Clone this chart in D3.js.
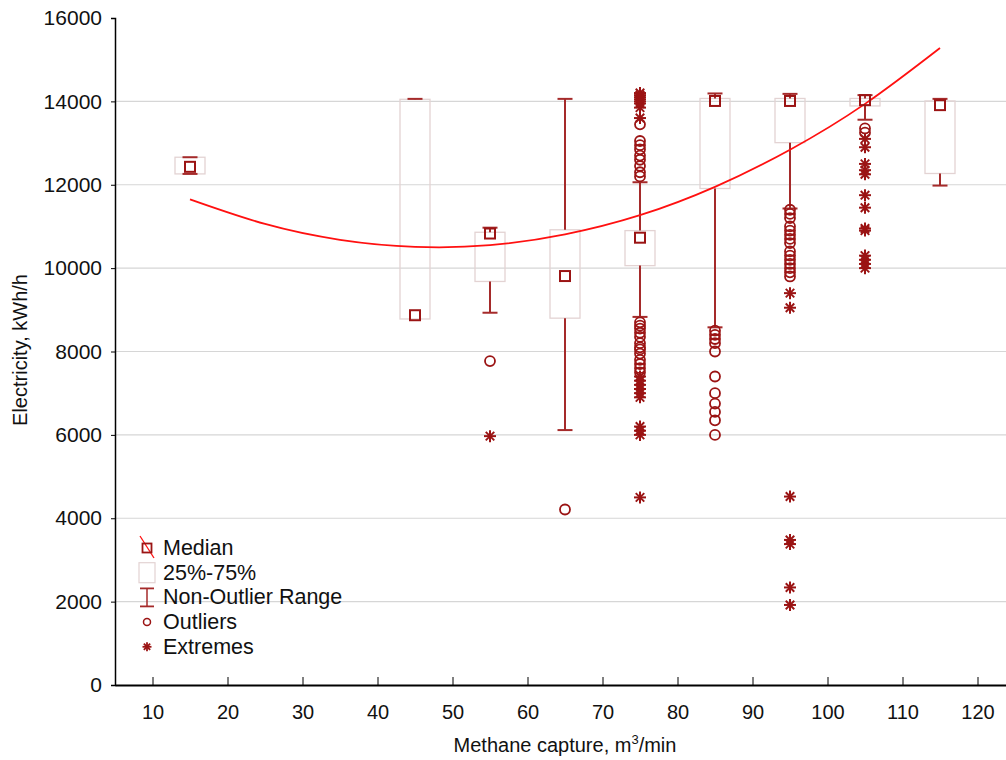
<!DOCTYPE html>
<meta charset="utf-8">
<script src="https://d3js.org/d3.v7.min.js"></script>
<style>
  body { margin: 0; background: #fff; }
  text { font-family: "Liberation Sans", Arial, sans-serif; }
</style>
<div id="chart"></div>
<script>

// methane capture classes (box centres)
var categories = [15, 45, 55, 65, 75, 85, 95, 105, 115];
var medians    = [12430, 8870, 10830, 9810, 10730, 14010, 14010, 14030, 13910];
var q1         = [12260, 8780, 9680, 8800, 10060, 11910, 13010, 13890, 12270];
var q3         = [12660, 14050, 10860, 10920, 10900, 14070, 14070, 14070, 14010];
var whiskerLow = [12260, 8780, 8930, 6115, 8830, 8580, 11430, 13560, 11980];
var whiskerHigh= [12660, 14060, 10970, 14060, 12060, 14190, 14180, 14150, 14060];

var outliers = [
  [], [], [7770], [4210],
  [13450, 13050, 12950, 12850, 12700, 12600, 12450, 12300, 12200,
   8700, 8620, 8550, 8450, 8350, 8200, 8100, 8050, 7950, 7800, 7700, 7600, 7500],
  [8500, 8400, 8300, 8200, 8000, 7400, 7000, 6750, 6550, 6350, 6000],
  [11400, 11300, 11200, 11000, 10900, 10800, 10700, 10600, 10400, 10300, 10200, 10100, 10000, 9900, 9800],
  [13350, 13250],
  []
];
var extremes = [
  [], [], [5970], [],
  [14200, 14150, 14100, 14050, 14000, 13950, 13850, 13600,
   7400, 7300, 7200, 7100, 7000, 6900, 6200, 6100, 6000, 4500],
  [],
  [9400, 9050, 4520, 3480, 3380, 2340, 1920],
  [13100, 12900, 12500, 12350, 12250, 11750, 11450, 10950, 10900, 10300, 10200, 10100, 10000],
  []
];

// fitted curve
var fitX = [15, 25, 35, 45, 55, 65, 75, 85, 95, 105, 115];
var fitY = [11650, 11060, 10680, 10510, 10550, 10810, 11270, 11950, 12840, 13940, 15280];

var xTicks = [10, 20, 30, 40, 50, 60, 70, 80, 90, 100, 110, 120];
var yTicks = [0, 2000, 4000, 6000, 8000, 10000, 12000, 14000, 16000];

var legendItems = ["Median", "25%-75%", "Non-Outlier Range", "Outliers", "Extremes"];

var W = 1006, H = 760;
var dark = "#9b1414", whisk = "#a52a2a", boxStroke = "#e3d3d3";

var svg = d3.select("#chart").append("svg")
  .attr("width", W).attr("height", H);

var x = d3.scaleLinear().domain([5, 125]).range([115, 1015]);
var y = d3.scaleLinear().domain([0, 16000]).range([685, 18]);

// gridlines
svg.append("g").selectAll("line")
  .data(yTicks.filter(function(d) { return d > 0 && d < 16000; }))
  .join("line")
    .attr("x1", 115).attr("x2", W)
    .attr("y1", function(d) { return y(d); })
    .attr("y2", function(d) { return y(d); })
    .attr("stroke", "#d6d6d6").attr("stroke-width", 1.2);

// Y axis
var yAxis = svg.append("g")
  .attr("transform", "translate(115,0)")
  .call(d3.axisLeft(y).tickValues(yTicks).tickFormat(d3.format("d")).tickSize(4).tickPadding(9));
yAxis.select(".domain").attr("stroke", "#000").attr("stroke-width", 1.5);
yAxis.selectAll("text").attr("font-size", 21).attr("fill", "#111")
  .style("font-family", "'Liberation Sans', Arial, sans-serif");

// X axis
var xAxis = svg.append("g")
  .attr("transform", "translate(0,685)")
  .call(d3.axisBottom(x).tickValues(xTicks).tickSizeInner(-8).tickSizeOuter(0).tickPadding(20));
xAxis.select(".domain").attr("stroke", "#000").attr("stroke-width", 1.8);
xAxis.selectAll("text").attr("font-size", 20).attr("fill", "#111")
  .style("font-family", "'Liberation Sans', Arial, sans-serif");

// axis titles
svg.append("text")
  .attr("transform", "translate(27,350) rotate(-90)")
  .attr("text-anchor", "middle")
  .attr("font-size", 20).attr("fill", "#111")
  .text("Electricity, kWh/h");

var xt = svg.append("text")
  .attr("x", 565).attr("y", 752)
  .attr("text-anchor", "middle")
  .attr("font-size", 20).attr("fill", "#111");
xt.append("tspan").text("Methane capture, m");
xt.append("tspan").attr("font-size", 13).attr("dy", -8).text("3");
xt.append("tspan").attr("dy", 8).text("/min");

var hw = 15, cap = 7.5;
var idx = d3.range(categories.length);

// boxes
svg.append("g").selectAll("rect")
  .data(idx).join("rect")
    .attr("x", function(i) { return x(categories[i]) - hw; })
    .attr("y", function(i) { return y(q3[i]); })
    .attr("width", hw * 2)
    .attr("height", function(i) { return y(q1[i]) - y(q3[i]); })
    .attr("fill", "none")
    .attr("stroke", boxStroke).attr("stroke-width", 1.3);

// whiskers
var wg = svg.append("g").attr("stroke", whisk).attr("stroke-width", 2);
idx.forEach(function(i) {
  var cx = x(categories[i]);
  if (whiskerHigh[i] > q3[i] + 1) {
    wg.append("line").attr("x1", cx).attr("x2", cx)
      .attr("y1", y(q3[i])).attr("y2", y(whiskerHigh[i]));
  }
  if (whiskerLow[i] < q1[i] - 1) {
    wg.append("line").attr("x1", cx).attr("x2", cx)
      .attr("y1", y(q1[i])).attr("y2", y(whiskerLow[i]));
  }
  wg.append("line").attr("x1", cx - cap).attr("x2", cx + cap)
    .attr("y1", y(whiskerHigh[i])).attr("y2", y(whiskerHigh[i]));
  if (i !== 1) {
    wg.append("line").attr("x1", cx - cap).attr("x2", cx + cap)
      .attr("y1", y(whiskerLow[i])).attr("y2", y(whiskerLow[i]));
  }
});

// fitted curve
svg.append("path")
  .datum(d3.zip(fitX, fitY))
  .attr("fill", "none")
  .attr("stroke", "#ff1010").attr("stroke-width", 1.8)
  .attr("d", d3.line()
    .x(function(d) { return x(d[0]); })
    .y(function(d) { return y(d[1]); })
    .curve(d3.curveNatural));

// outliers
var og = svg.append("g").attr("fill", "none").attr("stroke", dark).attr("stroke-width", 1.8);
idx.forEach(function(i) {
  outliers[i].forEach(function(v) {
    og.append("circle").attr("cx", x(categories[i])).attr("cy", y(v)).attr("r", 5);
  });
});

// extremes (asterisk)
function star(g, cx, cy, r) {
  var s = g.append("g").attr("transform", "translate(" + cx + "," + cy + ")");
  [0, 45, 90, 135].forEach(function(a) {
    var t = a * Math.PI / 180;
    s.append("line")
      .attr("x1", -r * Math.cos(t)).attr("y1", -r * Math.sin(t))
      .attr("x2", r * Math.cos(t)).attr("y2", r * Math.sin(t));
  });
}
var eg = svg.append("g").attr("stroke", dark).attr("stroke-width", 2);
idx.forEach(function(i) {
  extremes[i].forEach(function(v) { star(eg, x(categories[i]), y(v), 6); });
});

// medians
svg.append("g").selectAll("rect")
  .data(idx).join("rect")
    .attr("x", function(i) { return x(categories[i]) - 5; })
    .attr("y", function(i) { return y(medians[i]) - 5; })
    .attr("width", 10).attr("height", 10)
    .attr("fill", "none")
    .attr("stroke", dark).attr("stroke-width", 2);

// legend
var lg = svg.append("g");
var ly0 = 548, ldy = 24.7, lx = 147;
legendItems.forEach(function(t, k) {
  var cy = ly0 + k * ldy;
  if (k === 0) {
    lg.append("line").attr("x1", lx - 7).attr("y1", cy - 12).attr("x2", lx + 7).attr("y2", cy + 10)
      .attr("stroke", "#ff1010").attr("stroke-width", 1.3);
    lg.append("rect").attr("x", lx - 4.5).attr("y", cy - 4.5).attr("width", 9).attr("height", 9)
      .attr("fill", "none").attr("stroke", dark).attr("stroke-width", 1.8);
  } else if (k === 1) {
    lg.append("rect").attr("x", lx - 8).attr("y", cy - 10).attr("width", 16).attr("height", 20)
      .attr("fill", "none").attr("stroke", boxStroke).attr("stroke-width", 1.2);
  } else if (k === 2) {
    lg.append("line").attr("x1", lx - 7).attr("x2", lx + 7).attr("y1", cy - 9).attr("y2", cy - 9)
      .attr("stroke", whisk).attr("stroke-width", 1.8);
    lg.append("line").attr("x1", lx - 7).attr("x2", lx + 7).attr("y1", cy + 9).attr("y2", cy + 9)
      .attr("stroke", whisk).attr("stroke-width", 1.8);
    lg.append("line").attr("x1", lx).attr("x2", lx).attr("y1", cy - 9).attr("y2", cy + 9)
      .attr("stroke", whisk).attr("stroke-width", 1.5);
  } else if (k === 3) {
    lg.append("circle").attr("cx", lx).attr("cy", cy).attr("r", 3.5)
      .attr("fill", "none").attr("stroke", dark).attr("stroke-width", 1.5);
  } else {
    var sg = lg.append("g").attr("stroke", dark).attr("stroke-width", 1.8);
    star(sg, lx, cy, 4.5);
  }
  lg.append("text").attr("x", 163).attr("y", cy + 7)
    .attr("font-size", 21.5).attr("fill", "#111")
    .text(t);
});

</script>
